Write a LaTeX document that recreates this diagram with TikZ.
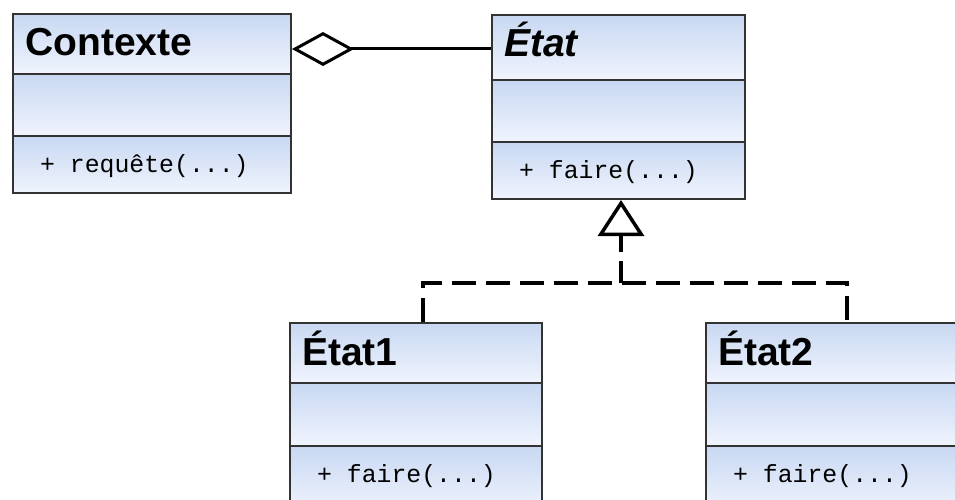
\documentclass[tikz,border=0pt]{standalone}
\usepackage{fontspec}
\setmainfont{Liberation Sans}
\newfontfamily\opfamily{Liberation Mono}
\usetikzlibrary{fit,calc,arrows.meta}
\definecolor{bordercol}{HTML}{333333}
\definecolor{shadetop}{HTML}{C8D8F2}
\definecolor{shadebot}{HTML}{F0F4FD}
\tikzset{
  compart/.style={top color=shadetop, bottom color=shadebot},
  classbox/.style={draw=bordercol, line width=2pt, inner sep=0pt},
  divider/.style={draw=bordercol, line width=2pt},
  titletext/.style={anchor=base west, inner sep=0pt, font=\fontsize{39}{40}\selectfont\bfseries},
  optext/.style={anchor=base west, inner sep=0pt, font=\fontsize{24.8}{26}\selectfont\opfamily},
  aggreg/.style={line width=3pt, {Diamond[open, length=62pt, width=34pt, line join=miter]}-},
  realize/.style={line width=4pt, dash pattern=on 24pt off 10pt},
  stemline/.style={line width=4pt, dash pattern=on 17pt off 9pt on 60pt off 0pt},
  realtip/.style={line width=3.5pt, -{Triangle[open, length=36pt, width=46pt]}},
}
% #1 name, #2 left, #3 right, #4 top, #5 divider1, #6 divider2, #7 bottom, #8 title, #9 operation
\newcommand\umlclassbox[9]{%
  \shade[compart] (#2,#4) rectangle (#3,#5);
  \shade[compart] (#2,#5) rectangle (#3,#6);
  \shade[compart] (#2,#6) rectangle (#3,#7);
  \node[classbox, fit={(#2,#4) (#3,#7)}] (#1) {};
  \draw[divider] (#2,#5) -- (#3,#5);
  \draw[divider] (#2,#6) -- (#3,#6);
  \node[titletext] (#1-title) at ({#2+12},{#4+42}) {#8};
  \node[optext] (#1-op) at ({#2+27},{#6+36}) {#9};
}
\begin{document}
\begin{tikzpicture}[x=1pt, y=-1pt]
  \useasboundingbox (0,0) rectangle (955,500);
  \clip (0,0) rectangle (955,500);
  \fill[white] (0,0) rectangle (955,500);
  \umlclassbox{ctx}{13}{291}{14}{74}{136}{193}{Contexte}{+ requête(...)}
  \umlclassbox{etat}{492}{745}{15}{80}{142}{199}{\itshape État}{+ faire(...)}
  \umlclassbox{etata}{290}{542}{323}{383}{446}{512}{État1}{+ faire(...)}
  \umlclassbox{etatb}{706}{968}{323}{383}{446}{512}{État2}{+ faire(...)}
  % aggregation
  \draw[aggreg] ($(ctx.north east)+(0,36)$) -- ($(etat.north west)+(0,35)$);
  % realization
  \coordinate (j) at (621,283);
  \coordinate (tb) at (621,235);
  \draw[realize] ($(etata.north west)+(134,0)$) |- (j) -| ($(etatb.north west)+(142,0)$);
  \draw[stemline] (tb) -- (j);
  \draw[realtip] (tb) -- (etat.south -| j);
\end{tikzpicture}
\end{document}
